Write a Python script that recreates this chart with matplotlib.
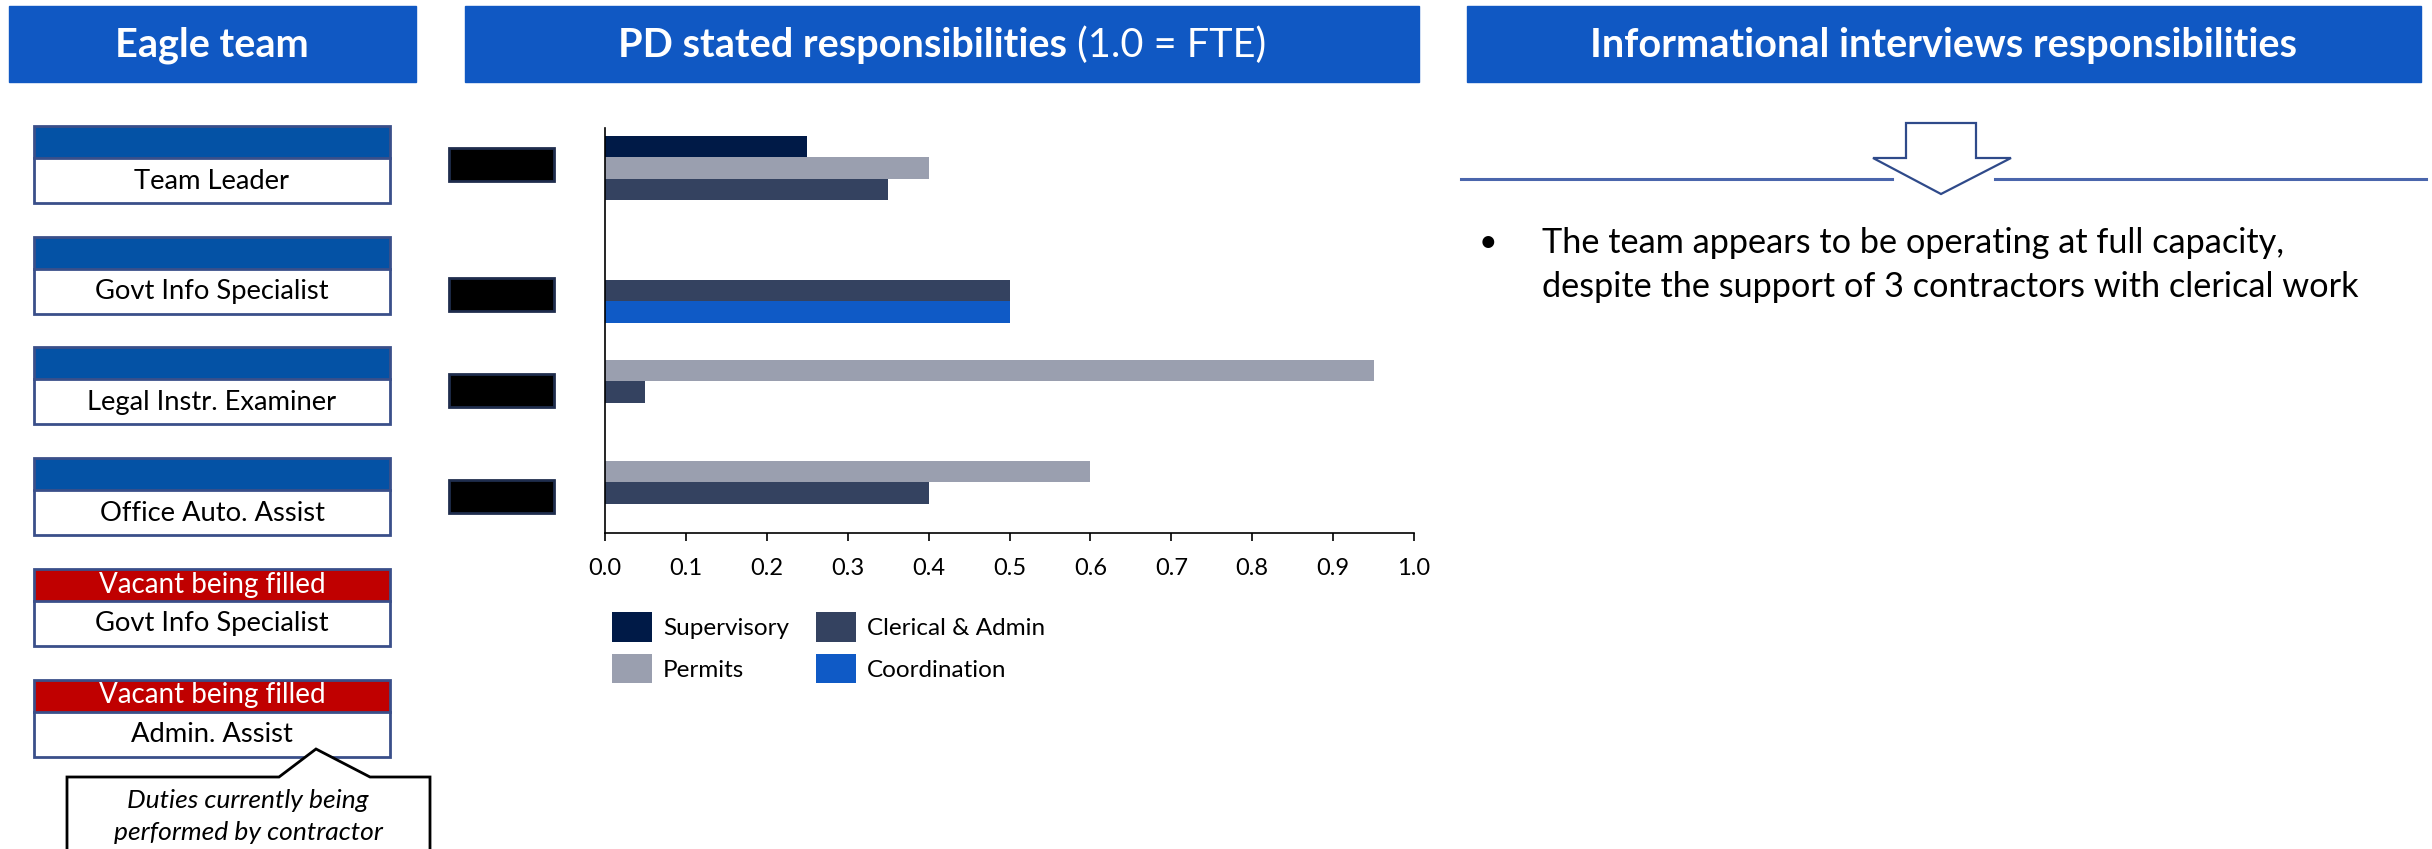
import matplotlib
matplotlib.use("Agg")
import matplotlib.pyplot as plt
from matplotlib.patches import Rectangle, Polygon
import numpy as np

plt.rcParams['font.family'] = ['Lato', 'DejaVu Sans']

W, H, DPI = 2432, 849, 100

# chart data (FTE per role)
roles = ["Team Leader", "Govt Info Specialist", "Legal Instr. Examiner", "Office Auto. Assist"]
series_names = ["Supervisory", "Permits", "Clerical & Admin", "Coordination"]
supervisory = [0.25, 0.0, 0.0, 0.0]
permits = [0.40, 0.0, 0.95, 0.60]
clerical = [0.35, 0.50, 0.05, 0.40]
coordination = [0.0, 0.50, 0.0, 0.0]
x_ticks = [0.0, 0.1, 0.2, 0.3, 0.4, 0.5, 0.6, 0.7, 0.8, 0.9, 1.0]

# team boxes on the left
box_titles = ["", "", "", "", "Vacant being filled", "Vacant being filled"]
box_roles = ["Team Leader", "Govt Info Specialist", "Legal Instr. Examiner",
             "Office Auto. Assist", "Govt Info Specialist", "Admin. Assist"]
box_vacant = [False, False, False, False, True, True]

callout_lines = ["Duties currently being", "performed by contractor"]
bullet_lines = ["The team appears to be operating at full capacity,",
                "despite the support of 3 contractors with clerical work"]

HEAD_BLUE = "#1058C3"
BOX_BLUE = "#0452A5"
BOX_EDGE = "#3A4F8A"
RED = "#C00000"
series_colors = ["#001A47", "#9A9FAF", "#344260", "#0F5AC6"]

fig = plt.figure(figsize=(W / DPI, H / DPI), dpi=DPI)
bg = fig.add_axes([0, 0, 1, 1])
bg.set_xlim(0, W)
bg.set_ylim(H, 0)
bg.axis("off")

# section headers
bg.add_patch(Rectangle((9, 6), 407, 76, color=HEAD_BLUE))
bg.add_patch(Rectangle((465, 6), 954, 76, color=HEAD_BLUE))
bg.add_patch(Rectangle((1467, 6), 954, 76, color=HEAD_BLUE))
bg.text(212, 45, "Eagle team", color="white", fontsize=28.5, fontweight="bold",
        ha="center", va="center")
bg.text(1944, 45, "Informational interviews responsibilities", color="white",
        fontsize=28.5, fontweight="bold", ha="center", va="center")

# PD header: bold part + regular part, centred together
t1 = bg.text(0, 45, "PD stated responsibilities", color="white", fontsize=28.5,
             fontweight="bold", ha="left", va="center")
t2 = bg.text(0, 45, " (1.0 = FTE)", color="white", fontsize=28.5,
             ha="left", va="center")
r = fig.canvas.get_renderer()
w1 = t1.get_window_extent(r).width
w2 = t2.get_window_extent(r).width
x0 = 942 - (w1 + w2) / 2
t1.set_x(x0)
t2.set_x(x0 + w1)

# team boxes
for i in range(len(box_roles)):
    top = 126 + i * 110.7
    head_col = RED if box_vacant[i] else BOX_BLUE
    bg.add_patch(Rectangle((34, top), 356, 32, facecolor=head_col, edgecolor="none", zorder=2))
    bg.add_patch(Rectangle((34, top), 356, 77, facecolor="none", edgecolor=BOX_EDGE,
                           lw=2, zorder=3))
    bg.plot([34, 390], [top + 32, top + 32], color=BOX_EDGE, lw=2, zorder=3)
    if box_titles[i]:
        bg.text(212, top + 16, box_titles[i], color="white", fontsize=20,
                ha="center", va="center", zorder=4)
    bg.text(212, top + 55, box_roles[i], color="black", fontsize=19.7,
            ha="center", va="center", zorder=4)

# callout under the last box
callout = [(67, 860), (67, 777), (279, 777), (316, 749), (370, 777), (430, 777), (430, 860)]
bg.add_patch(Polygon(callout, closed=False, facecolor="white", edgecolor="black",
                     lw=2, zorder=5))
for k, line in enumerate(callout_lines):
    bg.text(248, 800 + k * 33, line, fontsize=19, style="italic",
            ha="center", va="center", zorder=6)

# redacted name boxes
for y0 in [148, 278, 374, 480]:
    bg.add_patch(Rectangle((449, y0), 105, 33, facecolor="black",
                           edgecolor="#1F2D4D", lw=2))

# right panel: divider and hollow arrow
bg.plot([1461, 1892], [179, 179], color="#4A66AC", lw=2.2)
bg.plot([1995, 2426], [179, 179], color="#4A66AC", lw=2.2)
arrow = [(1906, 123), (1976, 123), (1976, 158), (2011, 158), (1941, 194),
         (1873, 158), (1906, 158)]
bg.add_patch(Polygon(arrow, closed=True, facecolor="white", edgecolor="#2F4A8A", lw=1.6))
bg.text(1488, 243, "\u2022", fontsize=23, ha="center", va="center")
for k, line in enumerate(bullet_lines):
    bg.text(1542, 243 + k * 44, line, fontsize=24.7, ha="left", va="center")

# bar chart
ax = fig.add_axes([605 / W, 1 - 533 / H, (1414 - 605) / W, (533 - 128) / H])
all_series = [supervisory, permits, clerical, coordination]
bar_h = 0.212
y = np.arange(len(roles))
for i, vals in enumerate(all_series):
    ax.barh(y + (i - 1.5) * bar_h, vals, height=bar_h, color=series_colors[i],
            linewidth=0, label=series_names[i])
ax.set_ylim(len(roles) - 0.5, -0.5)
ax.set_xlim(0, 1.0)
ax.set_xticks(x_ticks)
ax.set_xticklabels([f"{v:.1f}" for v in x_ticks], fontsize=17)
ax.set_yticks([])
ax.tick_params(axis="x", direction="out", length=6, width=1.2, pad=12)
for s in ["top", "right"]:
    ax.spines[s].set_visible(False)
ax.spines["left"].set_linewidth(1.2)
ax.spines["bottom"].set_linewidth(1.2)
ax.patch.set_alpha(0)

fig.legend(loc="upper left", bbox_to_anchor=(612 / W, 1 - 612 / H), ncol=2,
           frameon=False, fontsize=17.5, handlelength=1.65, handleheight=1.5,
           handletextpad=0.45, columnspacing=1.1, labelspacing=0.5,
           borderpad=0, borderaxespad=0)

fig.savefig("out.png", dpi=DPI)
